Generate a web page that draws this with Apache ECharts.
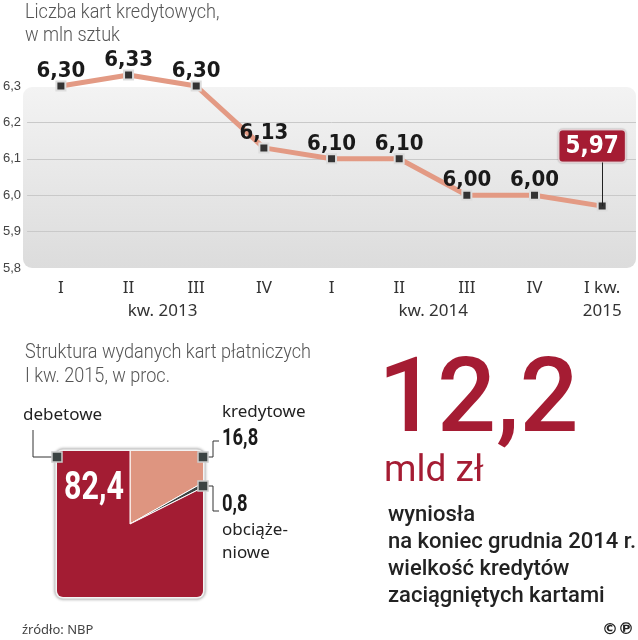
<!DOCTYPE html>
<html>
<head>
<meta charset="utf-8">
<script src="https://cdn.jsdelivr.net/npm/echarts@6/dist/echarts.min.js"></script>
<style>
  html, body { margin: 0; padding: 0; background: #fff; }
  #main { width: 638px; height: 640px; }
</style>
</head>
<body>
<div id="main"></div>
<script>
// liczba kart kredytowych, mln szt.
const categories = ['I', 'II', 'III', 'IV', 'I', 'II', 'III', 'IV', 'I kw.'];
const values = [6.30, 6.33, 6.30, 6.13, 6.10, 6.10, 6.00, 6.00, 5.97];
// podpisy lat pod osią (indeks kategorii -> tekst)
const yearIndex = [1, 5];
const yearText = ['kw. 2013', 'kw. 2014'];
const lastYear = '2015';

// struktura kart, proc.
const pieNames = ['kredytowe', 'obciążeniowe', 'debetowe'];
const pieValues = [16.8, 0.8, 82.4];

const fmt = (v, d) => v.toFixed(d).replace('.', ',');

let chart = echarts.init(document.getElementById('main'));

const pieColors = ['#DE9580', '#3C4443', '#A31C33'];
const pieTotal = pieValues.reduce((a, b) => a + b, 0);
const sq = { x: 57, y: 451, w: 146, h: 146, cx: 130, cy: 524 };

const condBold = '"DejaVu Sans Condensed", "DejaVu Sans", sans-serif';
const sansFont = '"Noto Sans", "Open Sans", "DejaVu Sans", sans-serif';
const axisFont = { fontFamily: sansFont, fontSize: 17, color: '#333', lineHeight: 23 };

chart.setOption({
    animation: false,
    backgroundColor: '#fff',
    textStyle: { fontFamily: sansFont },
    grid: {
        left: 23,
        right: 2,
        top: 86,
        bottom: 372
    },
    xAxis: [{
        type: 'category',
        data: categories,
        offset: 2,
        axisLine: { show: false },
        axisTick: {
            length: 5,
            interval: (i) => [1, 2, 3, 5, 6, 7].indexOf(i) >= 0,
            lineStyle: { color: '#777' }
        },
        axisLabel: Object.assign({
            interval: 0,
            margin: 7,
            formatter: (v, i) => {
                let k = yearIndex.indexOf(i);
                if (k >= 0) return '{c|' + v + '}\n{yr|' + yearText[k] + '}';
                if (i === categories.length - 1) return '{c|' + v + '}\n{c|' + lastYear + '}';
                return '{c|' + v + '}';
            },
            rich: {
                c: Object.assign({}, axisFont),
                yr: Object.assign({ padding: [0, 0, 0, 68] }, axisFont)
            }
        }, axisFont)
    }, {
        type: 'category',
        data: categories,
        position: 'bottom',
        offset: 2,
        axisLine: { show: false },
        axisLabel: { show: false },
        axisTick: {
            length: 33,
            interval: (i) => i === 4 || i === 8,
            lineStyle: { color: '#333' }
        }
    }],
    yAxis: {
        type: 'value',
        min: 5.8,
        max: 6.3,
        interval: 0.1,
        axisLine: { show: false },
        axisTick: { show: false },
        axisLabel: {
            margin: 6,
            fontFamily: 'Liberation Sans',
            fontSize: 13,
            color: '#444',
            formatter: (v) => fmt(v, 1)
        },
        splitLine: {
            lineStyle: {
                color: ['rgba(0,0,0,0)', '#c9c9c9', '#c9c9c9', '#c9c9c9', '#c9c9c9', 'rgba(0,0,0,0)'],
                width: 1
            }
        }
    },
    graphic: [
        // tło wykresu
        {
            type: 'rect', z: -10,
            shape: { x: 23, y: 87, width: 613, height: 181, r: 9 },
            style: {
                fill: new echarts.graphic.LinearGradient(0, 0, 0, 1, [
                    { offset: 0, color: '#f3f3f3' },
                    { offset: 1, color: '#dcdcdc' }
                ])
            }
        },
        // tytuły
        {
            type: 'text', left: 25, top: 1, scaleX: 0.86,
            style: { text: 'Liczba kart kredytowych,\nw mln sztuk', fontFamily: 'Roboto', fontWeight: 300, fontSize: 21, lineHeight: 23, fill: '#555' }
        },
        {
            type: 'text', left: 25, top: 341, scaleX: 0.86,
            style: { text: 'Struktura wydanych kart płatniczych\nI kw. 2015, w proc.', fontFamily: 'Roboto', fontWeight: 300, fontSize: 21, lineHeight: 24, fill: '#555' }
        },
        // ramka kwadratu
        {
            type: 'rect', z: -10,
            shape: { x: sq.x - 2, y: sq.y - 2, width: sq.w + 4, height: sq.h + 4, r: 8 },
            style: { fill: '#fff', stroke: '#d0d0d0', lineWidth: 1, shadowBlur: 3, shadowColor: 'rgba(0,0,0,0.3)' }
        },
        // odnośniki
        {
            type: 'polyline', z: 5,
            shape: { points: [[33, 430], [33, 457], [52, 457]] },
            style: { stroke: '#333', lineWidth: 1, fill: null }
        },
        {
            type: 'polyline', z: 5,
            shape: { points: [[208, 457], [213, 457], [213, 441], [219, 441]] },
            style: { stroke: '#333', lineWidth: 1, fill: null }
        },
        {
            type: 'polyline', z: 5,
            shape: { points: [[208, 486], [213, 486], [213, 511], [219, 511]] },
            style: { stroke: '#333', lineWidth: 1, fill: null }
        },
        { type: 'rect', z: 6, shape: { x: 52, y: 452, width: 10, height: 10 }, style: { fill: '#3C4443', stroke: '#ccc', lineWidth: 1.5 } },
        { type: 'rect', z: 6, shape: { x: 198, y: 452, width: 10, height: 10 }, style: { fill: '#3C4443', stroke: '#ccc', lineWidth: 1.5 } },
        { type: 'rect', z: 6, shape: { x: 198, y: 481, width: 10, height: 10 }, style: { fill: '#3C4443', stroke: '#ccc', lineWidth: 1.5 } },
        {
            type: 'text', left: 23, top: 407,
            style: { text: 'debetowe', fontFamily: sansFont, fontSize: 17, fill: '#222' }
        },
        {
            type: 'text', left: 222, top: 404,
            style: { text: 'kredytowe', fontFamily: sansFont, fontSize: 17, fill: '#222' }
        },
        {
            type: 'text', left: 222, top: 428, scaleX: 0.8,
            style: { text: fmt(pieValues[0], 1), fontFamily: 'Roboto', fontWeight: 'bold', fontSize: 23, fill: '#1a1a1a' }
        },
        {
            type: 'text', left: 222, top: 494, scaleX: 0.8,
            style: { text: fmt(pieValues[1], 1), fontFamily: 'Roboto', fontWeight: 'bold', fontSize: 23, fill: '#1a1a1a' }
        },
        {
            type: 'text', left: 222, top: 519,
            style: { text: 'obciąże-\nniowe', fontFamily: sansFont, fontSize: 17, lineHeight: 23, fill: '#222' }
        },
        {
            type: 'text', left: 64, top: 470, z: 10, scaleX: 0.78,
            style: { text: fmt(pieValues[2], 1), fontFamily: 'Roboto', fontWeight: 'bold', fontSize: 39, fill: '#fff' }
        },
        // prawa kolumna
        {
            type: 'text', left: 378, top: 353,
            style: { text: '12,2', fontFamily: 'Roboto', fontWeight: 500, fontSize: 104, fill: '#A51C33' }
        },
        {
            type: 'text', left: 384, top: 453,
            style: { text: 'mld zł', fontFamily: 'Roboto', fontWeight: 400, fontSize: 37, fill: '#A51C33' }
        },
        {
            type: 'text', left: 388, top: 502,
            style: {
                text: 'wyniosła\nna koniec grudnia 2014 r.\nwielkość kredytów\nzaciągniętych kartami',
                fontFamily: 'Roboto', fontWeight: 500, fontSize: 22, lineHeight: 27, fill: '#222'
            }
        },
        {
            type: 'text', left: 22, top: 624,
            style: { text: 'źródło: NBP', fontFamily: sansFont, fontSize: 13, fill: '#444' }
        },
        {
            type: 'text', right: 4, top: 622,
            style: { text: '©℗', fontFamily: 'DejaVu Sans', fontWeight: 'bold', fontSize: 16, fill: '#222' }
        }
    ],
    series: [{
        name: 'karty kredytowe',
        type: 'line',
        xAxisIndex: 0,
        data: values.map((v, i) => {
            if (i < values.length - 1) return v;
            return {
                value: v,
                label: {
                    distance: 39,
                    offset: [-10, 0],
                    color: '#fff',
                    fontSize: 24,
                    backgroundColor: '#A51C33',
                    borderColor: '#f0d8dc',
                    borderWidth: 1.5,
                    borderRadius: 3,
                    padding: [4, 6, 3, 6],
                    shadowBlur: 2,
                    shadowColor: 'rgba(0,0,0,0.3)'
                }
            };
        }),
        clip: false,
        symbol: 'rect',
        symbolSize: 9,
        itemStyle: {
            color: '#333',
            borderColor: '#ddd',
            borderWidth: 2
        },
        lineStyle: {
            color: '#E39A84',
            width: 5
        },
        label: {
            show: true,
            position: 'top',
            distance: -2,
            fontFamily: condBold,
            fontWeight: 'bold',
            fontSize: 22,
            color: '#1a1a1a',
            formatter: (p) => fmt(p.value, 2)
        },
        markLine: {
            silent: true,
            symbol: 'none',
            label: { show: false },
            lineStyle: { color: '#222', width: 1, type: 'solid' },
            data: [[{ coord: [8, values[8]] }, { coord: [8, 6.09] }]]
        },
        z: 3
    }, {
        name: 'struktura',
        type: 'custom',
        coordinateSystem: 'none',
        data: pieValues.map((v, i) => ({ name: pieNames[i], value: v })),
        renderItem: (params, api) => {
            let i = params.dataIndex;
            let cum = 0;
            for (let k = 0; k < i; k++) cum += pieValues[k];
            let a0 = -Math.PI / 2 + cum / pieTotal * Math.PI * 2;
            let a1 = a0 + api.value(0) / pieTotal * Math.PI * 2;
            return {
                type: 'sector',
                shape: { cx: sq.cx, cy: sq.cy, r: 160, r0: 0, startAngle: a0, endAngle: a1, clockwise: true },
                style: { fill: pieColors[i], stroke: '#fff', lineWidth: 1 },
                clipPath: {
                    type: 'rect',
                    shape: { x: sq.x, y: sq.y, width: sq.w, height: sq.h, r: 6 }
                }
            };
        },
        z: 1
    }]
});
</script>
</body>
</html>
